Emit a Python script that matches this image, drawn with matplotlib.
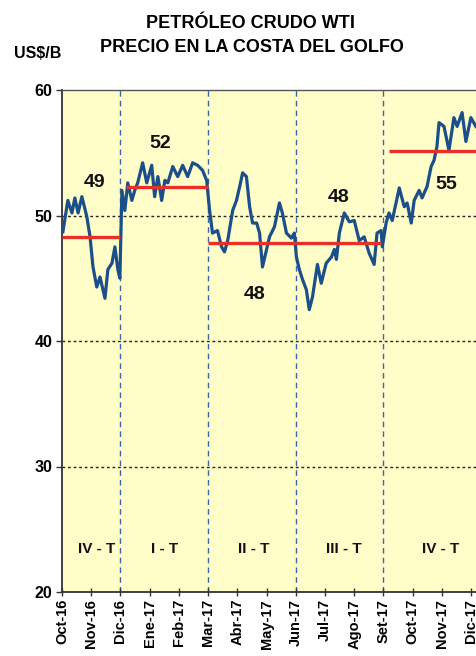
import matplotlib
matplotlib.use("Agg")
import matplotlib.pyplot as plt

# ---- data ----
month_labels = ["Oct-16", "Nov-16", "Dic-16", "Ene-17", "Feb-17", "Mar-17", "Abr-17",
                "May-17", "Jun-17", "Jul-17", "Ago-17", "Set-17", "Oct-17", "Nov-17", "Dic-17"]

# time in months since Oct-16
t = [0.03, 0.20, 0.34, 0.44, 0.55, 0.68, 0.85, 0.96, 1.06, 1.19, 1.30, 1.47, 1.57, 1.71, 1.81,
     1.91, 1.98, 2.05, 2.15, 2.25, 2.39, 2.49, 2.59, 2.76, 2.90, 3.07, 3.17, 3.28, 3.41, 3.52,
     3.62, 3.79, 3.96, 4.13, 4.30, 4.47, 4.64, 4.81, 4.95, 5.05, 5.15, 5.32, 5.46, 5.56, 5.67,
     5.84, 5.97, 6.08, 6.18, 6.31, 6.42, 6.52, 6.66, 6.76, 6.86, 7.00, 7.10, 7.27, 7.44, 7.54,
     7.68, 7.85, 7.95, 8.02, 8.12, 8.23, 8.36, 8.46, 8.57, 8.74, 8.87, 9.04, 9.22, 9.32, 9.39,
     9.49, 9.66, 9.83, 10.00, 10.17, 10.34, 10.51, 10.68, 10.78, 10.92, 10.96, 11.09, 11.19,
     11.30, 11.54, 11.71, 11.81, 11.95, 12.05, 12.22, 12.32, 12.49, 12.63, 12.73, 12.83, 12.90,
     13.07, 13.24, 13.41, 13.52, 13.69, 13.82, 13.99, 14.16]
price = [48.7, 51.2, 50.2, 51.4, 50.2, 51.5, 49.9, 48.3, 45.9, 44.3, 45.1, 43.4, 45.7, 46.2, 47.5,
         45.7, 45.0, 52.0, 50.4, 52.6, 51.2, 52.0, 52.6, 54.2, 52.6, 54.0, 51.5, 53.1, 51.2, 52.8,
         52.6, 53.9, 53.1, 54.0, 53.1, 54.2, 54.0, 53.6, 52.8, 50.4, 48.6, 48.8, 47.5, 47.1, 48.0,
         50.4, 51.2, 52.3, 53.4, 53.1, 50.7, 49.4, 49.4, 48.6, 45.9, 47.3, 48.3, 49.1, 51.0, 50.2,
         48.6, 48.2, 48.6, 46.7, 45.7, 44.9, 44.1, 42.5, 43.5, 46.1, 44.6, 46.2, 46.7, 47.3, 46.5,
         48.6, 50.2, 49.5, 49.6, 48.0, 48.3, 47.0, 46.1, 48.6, 48.8, 47.5, 49.4, 50.2,
         49.6, 52.2, 50.7, 51.0, 49.4, 51.2, 52.0, 51.4, 52.3, 53.9, 54.4, 55.5, 57.4,
         57.1, 55.2, 57.8, 57.1, 58.2, 55.9, 57.8, 57.1]

# quarterly averages (period start, end in months, average level, label)
q_start = [0.0, 2.2, 5.0, 8.0, 11.2]
q_end = [2.0, 5.0, 8.0, 10.9, 14.2]
q_avg = [48.3, 52.3, 47.8, 47.8, 55.1]
q_text = ["49", "52", "48", "48", "55"]
q_names = ["IV - T", "I - T", "II - T", "III - T", "IV - T"]
q_bounds = [2, 5, 8, 11]

# ---- figure ----
plt.rcParams['font.family'] = ['Liberation Sans', 'DejaVu Sans']
fig = plt.figure(figsize=(4.77, 6.56), dpi=100)
ax = fig.add_axes([62/477, 1-592/656, 1-62/477, (592-90)/656])
ax.set_facecolor("#FFFDC8")

ax.set_xlim(0, 14.2)
ax.set_ylim(20, 60)

for yv in [30, 40, 50]:
    ax.axhline(yv, color="#222222", lw=1.0, ls=(0, (2, 2)), zorder=1)
for xv in q_bounds:
    ax.axvline(xv, color="#3A6AA5", lw=1.0, ls=(0, (4, 3)), zorder=1)

ax.plot(t, price, color="#1B4F8A", lw=2.3, solid_joinstyle="round", zorder=3)
for s, e, v in zip(q_start, q_end, q_avg):
    ax.plot([s, e], [v, v], color="#E8302A", lw=2.4, solid_capstyle="butt", zorder=4)

# value labels
lab_pos = [(1.13, 52.6), (3.35, 55.7), (6.6, 43.7), (9.45, 51.4), (13.15, 52.5)]
for (x, y), txt in zip(lab_pos, q_text):
    ax.text(x, y, txt, ha="center", va="center", fontsize=14, fontweight="bold", color="#111111")

name_x = [1.2, 3.5, 6.55, 9.65, 12.95]
for x, txt in zip(name_x, q_names):
    ax.text(x, 23.4, txt, ha="center", va="center", fontsize=11, fontweight="bold", color="#111111")

ax.set_xticks(range(len(month_labels)))
ax.set_xticklabels(month_labels, rotation=90, fontsize=10.5, fontweight="bold")
ax.set_yticks([20, 30, 40, 50, 60])
ax.set_yticklabels(["20", "30", "40", "50", "60"], fontsize=11.5, fontweight="bold")
ax.tick_params(axis="x", direction="inout", length=6, width=1, color="#333333", pad=2)
ax.tick_params(axis="y", direction="out", length=4, width=1, color="#333333", pad=3)
for sp in ["left", "bottom"]:
    ax.spines[sp].set_color("#333333")
    ax.spines[sp].set_linewidth(1.3)
ax.spines["top"].set_color("#555555")
ax.spines["top"].set_linewidth(1.0)
ax.spines["right"].set_visible(False)

fig.text(250/477, 1-23/656, "PETRÓLEO CRUDO WTI", ha="center", va="center",
         fontsize=13, fontweight="bold")
fig.text(252/477, 1-48/656, "PRECIO EN LA COSTA DEL GOLFO", ha="center", va="center",
         fontsize=13, fontweight="bold")
fig.text(38/477, 1-53/656, "US$/B", ha="center", va="center", fontsize=11.5, fontweight="bold")

fig.savefig("out.png", dpi=100)
